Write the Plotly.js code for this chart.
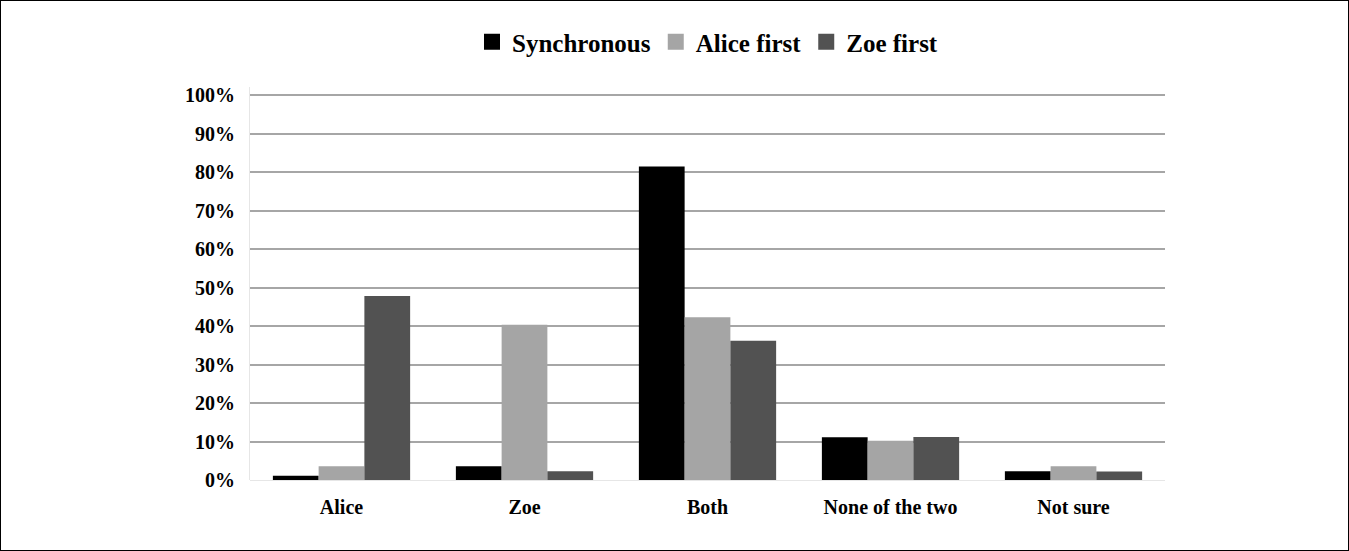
<!DOCTYPE html>
<html><head><meta charset="utf-8">
<script src="https://cdn.plot.ly/plotly-3.0.1.min.js"></script>
<style>html,body{margin:0;padding:0;background:#fff}#wrap{width:1349px;height:551px;box-sizing:border-box;border:1px solid #000;overflow:hidden}#chart{width:1347px;height:549px}</style>
</head><body><div id="wrap"><div id="chart"></div></div>
<script>
const categories = ["Alice", "Zoe", "Both", "None of the two", "Not sure"];
const synchronous = [0.011, 0.036, 0.814, 0.111, 0.023];
const aliceFirst = [0.036, 0.403, 0.423, 0.102, 0.036];
const zoeFirst = [0.478, 0.023, 0.362, 0.112, 0.022];
const seriesNames = ["Synchronous", "Alice first", "Zoe first"];
const seriesColors = ["#000000", "#a5a5a5", "#525252"];
const yTicks = [0,0.1,0.2,0.3,0.4,0.5,0.6,0.7,0.8,0.9,1.0];
const yTickText = ["0%","10%","20%","30%","40%","50%","60%","70%","80%","90%","100%"];

const font = "Liberation Serif, Times New Roman, serif";
const bars = [synchronous, aliceFirst, zoeFirst].map((v,i)=>({
  type:"bar", x:categories, y:v, name:seriesNames[i], showlegend:false,
  marker:{color:seriesColors[i], line:{width:0}}
}));
const legendItems = seriesNames.map((n,i)=>({
  type:"scatter", mode:"markers", x:[null], y:[null], name:n, showlegend:true,
  marker:{symbol:"square", size:16, color:seriesColors[i], line:{width:0}}
}));
const layout = {
  width:1347, height:549,
  margin:{l:249, r:183, t:86, b:70, autoexpand:false},
  paper_bgcolor:"#fff", plot_bgcolor:"#fff",
  barmode:"group", bargap:0.25, bargroupgap:0,
  font:{family:font, color:"#000"},
  showlegend:true,
  legend:{orientation:"h", x:0.5, xanchor:"center", y:1.1145, yanchor:"middle", itemsizing:"trace",
    font:{family:font, size:25, color:"#000", weight:"bold"}, itemwidth:30, tracegroupgap:0},
  xaxis:{type:"category", showgrid:false, zeroline:false, showline:false, ticks:"",
    tickfont:{family:font, size:20, color:"#000", weight:"bold"}, ticklabelstandoff:13, fixedrange:true},
  yaxis:{range:[0,1.0208], tickvals:yTicks, ticktext:yTickText, showgrid:true, gridcolor:"#a6a6a6", gridwidth:2,
    zeroline:true, zerolinecolor:"#e6e6e6", zerolinewidth:1, showline:true, linecolor:"#e6e6e6", linewidth:1,
    ticks:"", ticklabelstandoff:10,
    tickfont:{family:font, size:20, color:"#000", weight:"bold"}, fixedrange:true}
};
Plotly.newPlot("chart", bars.concat(legendItems), layout, {displayModeBar:false, staticPlot:true});
</script></body></html>
